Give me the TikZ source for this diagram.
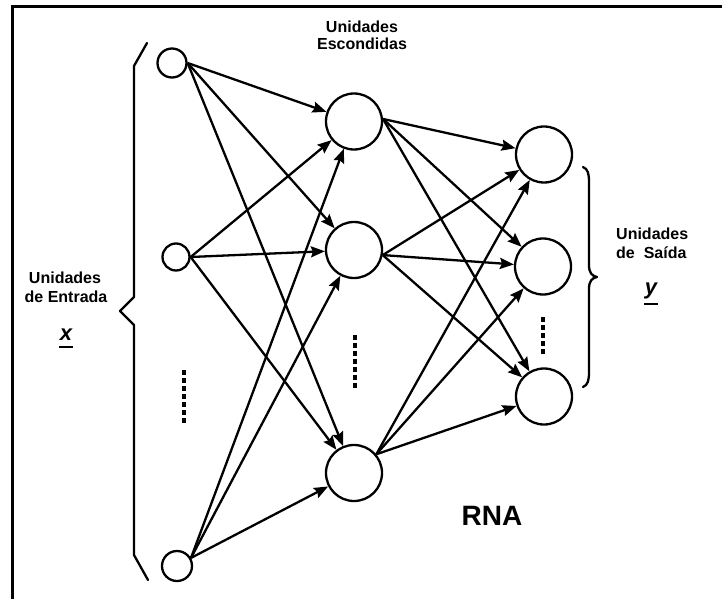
\documentclass[tikz,border=0pt]{standalone}
\usepackage{fontspec}
\setmainfont{Liberation Sans}
\usetikzlibrary{arrows.meta}
\begin{document}
\begin{tikzpicture}[x=1pt,y=-1pt,
  unit/.style={circle,draw,line width=2.3pt,inner sep=0pt,minimum size=#1},
  link/.style={line width=2.3pt,-{Stealth[length=14pt,width=11pt,inset=2pt]}},
  lbl/.style={font=\bfseries\fontsize{16}{18}\selectfont,inner sep=0pt},
  var/.style={font=\bfseries\itshape\fontsize{22}{24}\selectfont,inner sep=0pt},
  dotcol/.style={line width=4.5pt,dash pattern=on 4.5pt off 3.5pt},
  bracket/.style={line width=2.3pt,line join=round,line cap=round}]
\useasboundingbox (0,0) rectangle (722,599);

% frame: top and left edges
\draw[line width=3pt] (12,599) -- (12,7) -- (722,7);

% input layer
\node[unit=29pt] (i1) at (172,63) {};
\node[unit=27pt] (i2) at (176,257) {};
\node[unit=30pt] (i3) at (177,566) {};

% hidden layer
\node[unit=56pt] (h1) at (354,121.5) {};
\node[unit=56pt] (h2) at (354,250) {};
\node[unit=56pt] (h3) at (354,473) {};

% output layer
\node[unit=56pt] (o1) at (544,154.5) {};
\node[unit=56pt] (o2) at (543,266.5) {};
\node[unit=56pt] (o3) at (544,396.5) {};

% input -> hidden
\foreach \s in {i1.east,i2.east,i3.30}
  \foreach \t in {h1,h2,h3}
    \draw[link] (\s) -- (\t);

% hidden -> output
\foreach \s in {h1.5,h2.-10,h3.40}
  \foreach \t in {o1,o2,o3}
    \draw[link] (\s) -- (\t);

% ellipsis dots
\draw[dotcol] (184,370) -- (184,423);
\draw[dotcol] (355,335) -- (355,390);
\draw[dotcol] (543,317) -- (543,355);

% left brace
\draw[bracket] (147,43) -- (134,66) -- (134,297) -- (120,311) -- (134,325) -- (134,555) -- (148,580);

% right brace
\draw[bracket] (583,167) .. controls (588,169) and (589,174) .. (589,182) -- (589,265)
  .. controls (589,273) and (592,276) .. (597,277)
  .. controls (592,278) and (589,281) .. (589,289) -- (589,372)
  .. controls (589,380) and (588,385) .. (583,387);

% labels
\node[lbl,anchor=base] (hid1) at (362,33) {Unidades};
\node[lbl,anchor=base] (hid2) at (362,50) {Escondidas};

\node[lbl,anchor=base] (in1) at (65,283) {Unidades};
\node[lbl,anchor=base] (in2) at (66,302) {de Entrada};
\node[var,anchor=base] (xv) at (66,340) {x};
\draw[line width=2pt] (59,347) -- (73,347);

\node[lbl,anchor=base west] (out1) at (616,239) {Unidades};
\node[lbl,anchor=base west] (out2) at (616,258) {de\ \ Saída};
\node[var,anchor=base] (yv) at (651,294) {y};
\draw[line width=2pt] (644,304) -- (658,304);

\node[font=\bfseries\fontsize{28}{30}\selectfont,anchor=base,inner sep=0pt] (rna) at (492,525) {RNA};
\end{tikzpicture}
\end{document}
